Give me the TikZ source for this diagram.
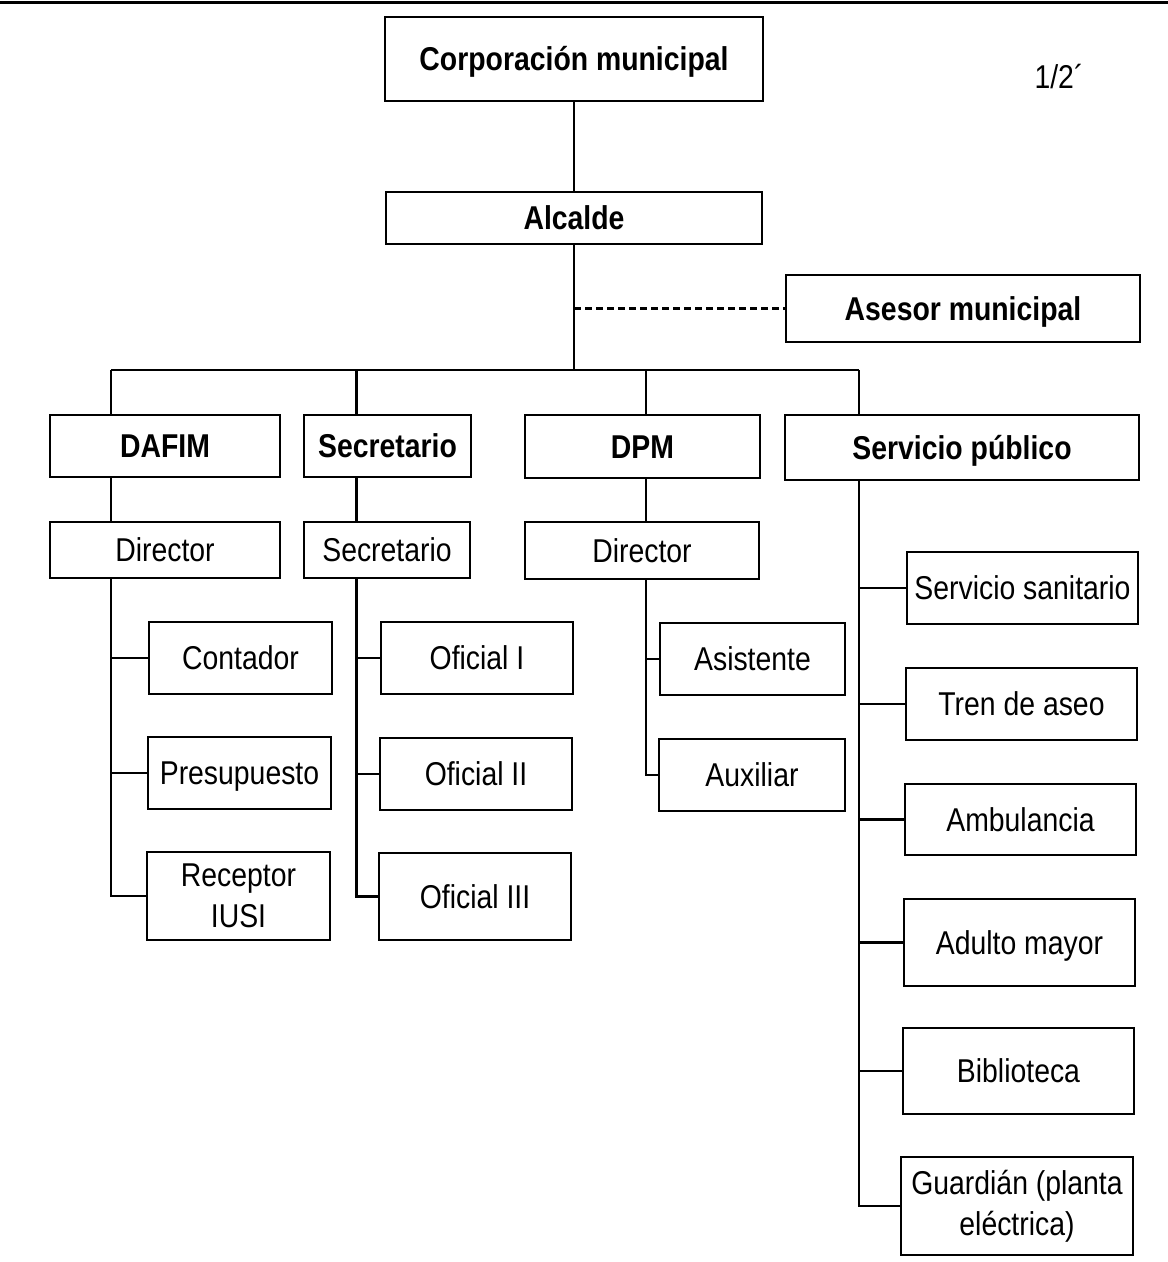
\documentclass[tikz,border=0pt]{standalone}
\usepackage{fontspec}
\setmainfont[FakeStretch=0.86]{Liberation Sans}
\begin{document}
\begin{tikzpicture}[x=1pt,y=-1pt,
  every node/.style={font=\fontsize{33}{41}\selectfont, inner sep=0pt, align=center},
  oneline/.style={text height=23.5pt, text depth=0pt},
  headbox/.style={draw, line width=2.6pt, rectangle, oneline, font=\fontsize{33}{41}\selectfont\bfseries},
  subbox/.style={draw, line width=1.5pt, rectangle, oneline},
  twoline/.style={text height=, text depth=},
  conn/.style={line width=2.2pt},
  adv/.style={line width=2.2pt, dashed, dash pattern=on 7pt off 4pt}]
\useasboundingbox (0,0) rectangle (1168,1262);
\fill[white] (0,0) rectangle (1168,1262);
\coordinate (rl) at (0,2);
\coordinate (rr) at (1168,2);
\draw[line width=3pt] (rl) -- (rr);

% level 0
\node[headbox, minimum width=378pt, minimum height=84pt] (corp) at (574,59) {Corporación municipal};
\node[oneline] (page) at (1059,77) {1/2´};
\node[headbox, minimum width=376pt, minimum height=52pt] (alc) at (574,218) {Alcalde};
\node[headbox, minimum width=354pt, minimum height=67pt] (ases) at (963,308.5) {Asesor municipal};

% level 1
\node[headbox, minimum width=230pt, minimum height=62pt] (dafim) at (165,446) {DAFIM};
\node[headbox, minimum width=167pt, minimum height=62pt] (secb) at (387.5,446) {Secretario};
\node[headbox, minimum width=235pt, minimum height=63pt] (dpm) at (642.5,446.5) {DPM};
\node[headbox, minimum width=354pt, minimum height=65pt] (serv) at (962,447.5) {Servicio público};

% level 2
\node[subbox, minimum width=230pt, minimum height=56pt] (dir1) at (165,550) {Director};
\node[subbox, minimum width=166pt, minimum height=56pt] (sec2) at (387,550) {Secretario};
\node[subbox, minimum width=234pt, minimum height=57pt] (dir3) at (642,550.5) {Director};

% leaves DAFIM
\node[subbox, minimum width=183pt, minimum height=72pt] (cont) at (240.5,658) {Contador};
\node[subbox, minimum width=183pt, minimum height=72pt] (pres) at (239.5,773) {Presupuesto};
\node[subbox, twoline, minimum width=183pt, minimum height=88pt] (rec) at (238.5,896) {Receptor\\IUSI};

% leaves Secretario
\node[subbox, minimum width=192pt, minimum height=72pt] (of1) at (477,658) {Oficial I};
\node[subbox, minimum width=192pt, minimum height=72pt] (of2) at (476,774) {Oficial II};
\node[subbox, minimum width=192pt, minimum height=87pt] (of3) at (475,896.5) {Oficial III};

% leaves DPM
\node[subbox, minimum width=185pt, minimum height=72pt] (asis) at (752.5,659) {Asistente};
\node[subbox, minimum width=186pt, minimum height=72pt] (aux) at (752,775) {Auxiliar};

% leaves Servicio publico
\node[subbox, minimum width=231pt, minimum height=72pt] (ss) at (1022.5,588) {Servicio sanitario};
\node[subbox, minimum width=231pt, minimum height=72pt] (tren) at (1021.5,704) {Tren de aseo};
\node[subbox, minimum width=231pt, minimum height=71pt] (amb) at (1020.5,819.5) {Ambulancia};
\node[subbox, minimum width=231pt, minimum height=87pt] (adu) at (1019.5,942.5) {Adulto mayor};
\node[subbox, minimum width=231pt, minimum height=86pt] (bib) at (1018.5,1071) {Biblioteca};
\node[subbox, twoline, minimum width=232pt, minimum height=98pt] (gua) at (1017,1206) {Guardián (planta\\eléctrica)};

% bus coordinates
\coordinate (c1) at (111,370);
\coordinate (c2) at (356.5,370);
\coordinate (c3) at (646,370);
\coordinate (c4) at (859,370);

% connectors
\draw[conn] (corp.south) -- (alc.north);
\draw[conn] (alc.south) -- (alc.south |- c1);
\draw[adv] (alc.south |- ases.west) -- (ases.west);
\draw[conn] (c1) -- (c4);
\draw[conn] (c1) -- (c1 |- dafim.north);
\draw[conn] (c2) -- (c2 |- secb.north);
\draw[conn] (c3) -- (c3 |- dpm.north);
\draw[conn] (c4) -- (c4 |- serv.north);

\draw[conn] (dafim.south -| c1) -- (dir1.north -| c1);
\draw[conn] (secb.south -| c2) -- (sec2.north -| c2);
\draw[conn] (dpm.south -| c3) -- (dir3.north -| c3);

\draw[conn] (dir1.south -| c1) |- (rec.west);
\draw[conn] (c1 |- cont.west) -- (cont.west);
\draw[conn] (c1 |- pres.west) -- (pres.west);

\draw[conn] (sec2.south -| c2) |- (of3.west);
\draw[conn] (c2 |- of1.west) -- (of1.west);
\draw[conn] (c2 |- of2.west) -- (of2.west);

\draw[conn] (dir3.south -| c3) |- (aux.west);
\draw[conn] (c3 |- asis.west) -- (asis.west);

\draw[conn] (serv.south -| c4) |- (gua.west);
\draw[conn] (c4 |- ss.west) -- (ss.west);
\draw[conn] (c4 |- tren.west) -- (tren.west);
\draw[conn] (c4 |- amb.west) -- (amb.west);
\draw[conn] (c4 |- adu.west) -- (adu.west);
\draw[conn] (c4 |- bib.west) -- (bib.west);
\end{tikzpicture}
\end{document}
